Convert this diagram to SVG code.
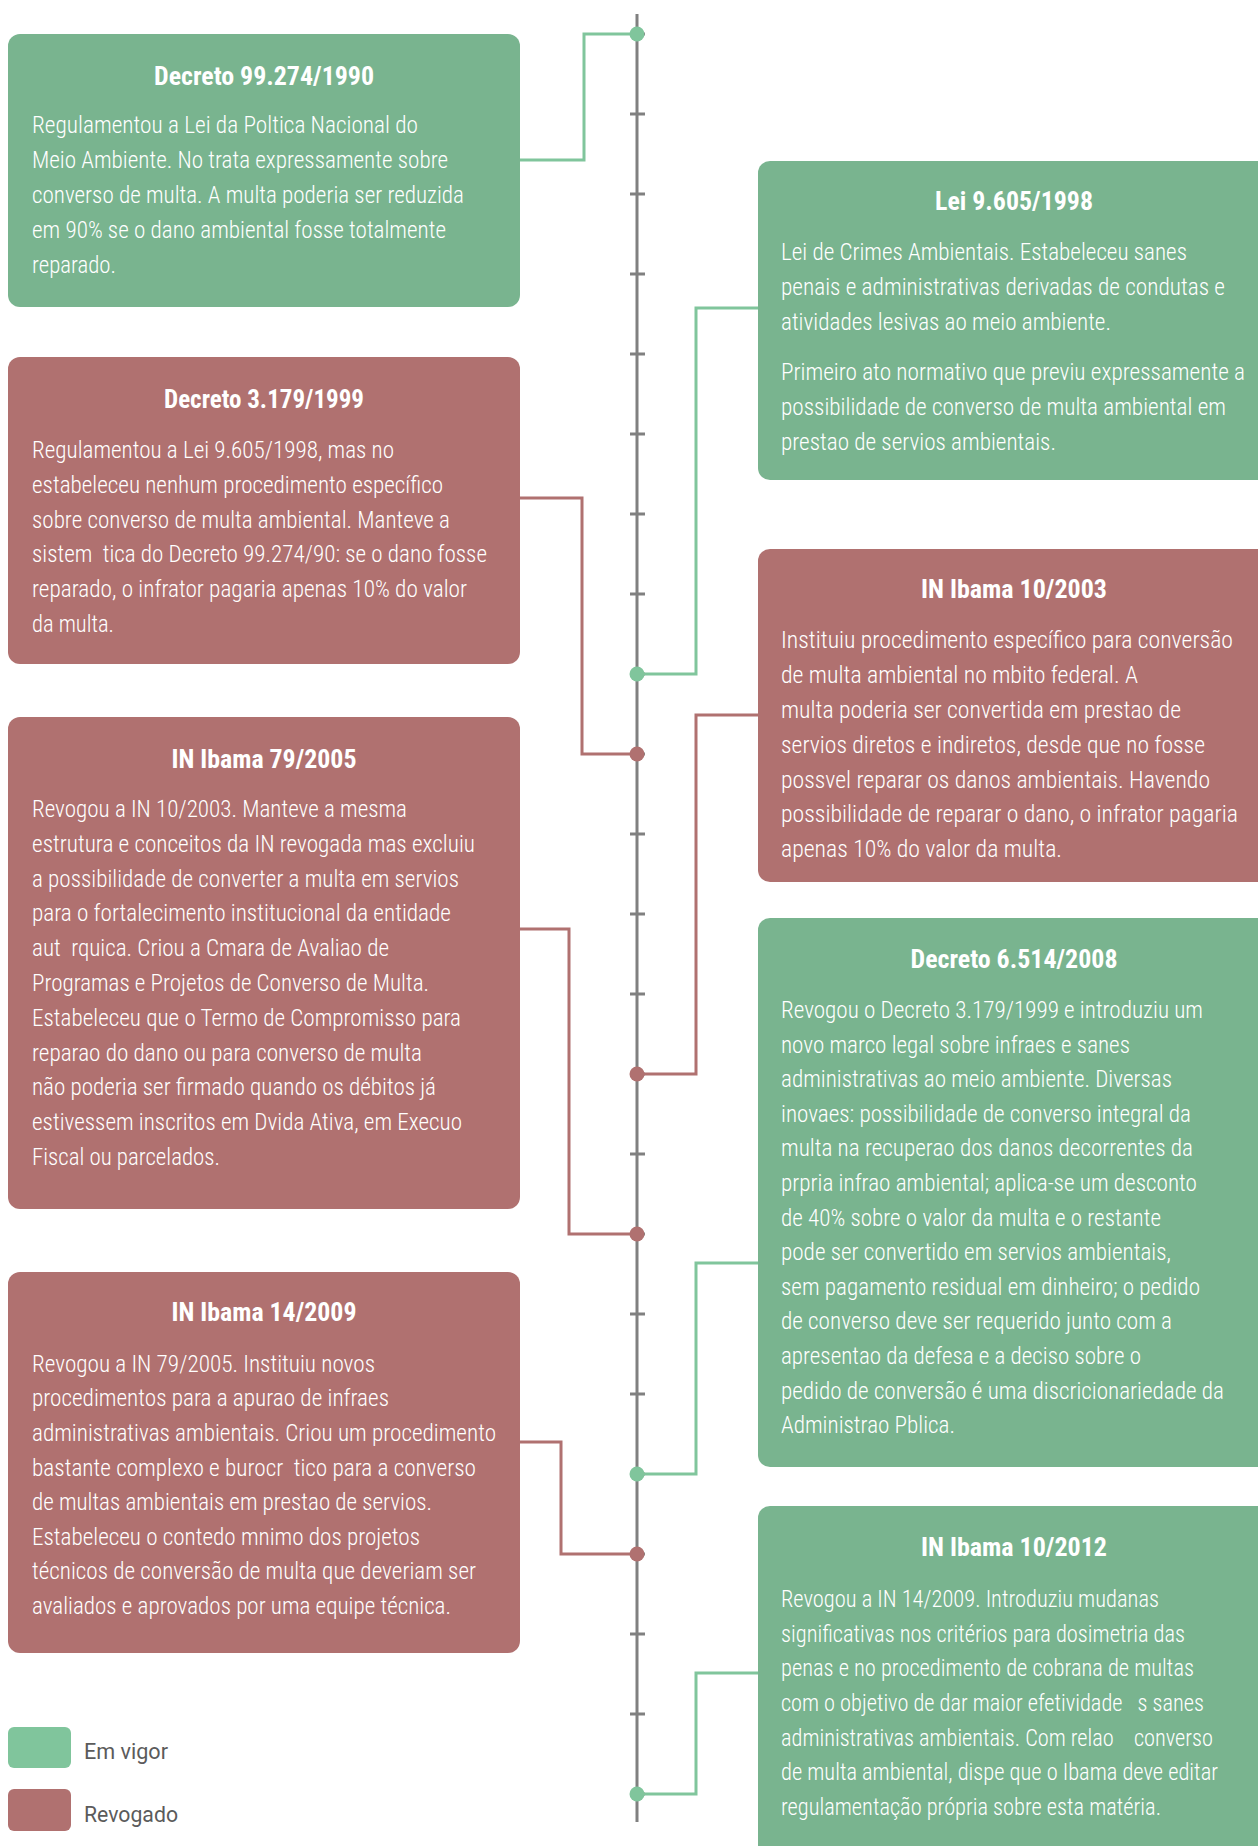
<svg xmlns="http://www.w3.org/2000/svg" width="1258" height="1846" viewBox="0 0 1258 1846">
<style>
  .bg { fill: #ffffff; }
  .g { fill: #79b48f; }
  .r { fill: #b07170; }
  .t { font-family: "Roboto Condensed", Roboto, "Liberation Sans Narrow", sans-serif; font-weight: 700; font-size: 26px; fill: #ffffff; text-anchor: middle; }
  .b { font-family: "Roboto Condensed", Roboto, "Liberation Sans Narrow", sans-serif; font-weight: 300; font-size: 24px; fill: #ffffff; white-space: pre; }
  .lg { font-family: Roboto, "Liberation Sans", sans-serif; font-weight: 400; font-size: 22px; fill: #5b5b5b; }
  .axis { stroke: #808080; stroke-width: 3; fill: none; }
  .cg { stroke: #80c59c; stroke-width: 3; fill: none; }
  .cr { stroke: #b07170; stroke-width: 3; fill: none; }
  .dg { fill: #80c59c; }
  .dr { fill: #b07170; }
</style>
<rect class="bg" x="0" y="0" width="1258" height="1846"/>

<g id="timeline">
  <line class="axis" x1="637" y1="14" x2="637" y2="1822"/>
  <path class="axis" d="M630 34H645M630 114H645M630 194H645M630 274H645M630 354H645M630 434H645M630 514H645M630 594H645M630 674H645M630 754H645M630 834H645M630 914H645M630 994H645M630 1074H645M630 1154H645M630 1234H645M630 1314H645M630 1394H645M630 1474H645M630 1554H645M630 1634H645M630 1714H645M630 1794H645"/>
</g>

<g id="connectors">
  <polyline class="cg" points="520,160 584,160 584,34 637,34"/>
  <polyline class="cg" points="758,308 696,308 696,674 637,674"/>
  <polyline class="cr" points="520,498 582,498 582,754 637,754"/>
  <polyline class="cr" points="758,715 696,715 696,1074 637,1074"/>
  <polyline class="cr" points="520,929 569,929 569,1234 637,1234"/>
  <polyline class="cg" points="758,1263 696,1263 696,1474 637,1474"/>
  <polyline class="cr" points="520,1442 561,1442 561,1554 637,1554"/>
  <polyline class="cg" points="758,1673 696,1673 696,1794 637,1794"/>
  <circle class="dg" cx="637" cy="34" r="7.5"/>
  <circle class="dg" cx="637" cy="674" r="7.5"/>
  <circle class="dr" cx="637" cy="754" r="7.5"/>
  <circle class="dr" cx="637" cy="1074" r="7.5"/>
  <circle class="dr" cx="637" cy="1234" r="7.5"/>
  <circle class="dg" cx="637" cy="1474" r="7.5"/>
  <circle class="dr" cx="637" cy="1554" r="7.5"/>
  <circle class="dg" cx="637" cy="1794" r="7.5"/>
</g>

<g id="decreto-99274-1990">
  <rect class="g" x="8" y="34" width="512" height="273" rx="12"/>
  <text class="t" x="264" y="85" textLength="220" lengthAdjust="spacingAndGlyphs">Decreto 99.274/1990</text>
  <text class="b" x="32" y="133" textLength="386" lengthAdjust="spacingAndGlyphs">Regulamentou a Lei da Poltica Nacional do</text>
  <text class="b" x="32" y="168" textLength="416" lengthAdjust="spacingAndGlyphs">Meio Ambiente. No trata expressamente sobre</text>
  <text class="b" x="32" y="203" textLength="432" lengthAdjust="spacingAndGlyphs">converso de multa. A multa poderia ser reduzida</text>
  <text class="b" x="32" y="238" textLength="414" lengthAdjust="spacingAndGlyphs">em 90% se o dano ambiental fosse totalmente</text>
  <text class="b" x="32" y="273" textLength="84" lengthAdjust="spacingAndGlyphs">reparado.</text>
</g>

<g id="lei-9605-1998">
  <rect class="g" x="758" y="161" width="520" height="319" rx="12"/>
  <text class="t" x="1014" y="210" textLength="158" lengthAdjust="spacingAndGlyphs">Lei 9.605/1998</text>
  <text class="b" x="781" y="260" textLength="406" lengthAdjust="spacingAndGlyphs">Lei de Crimes Ambientais. Estabeleceu sanes</text>
  <text class="b" x="781" y="295" textLength="444" lengthAdjust="spacingAndGlyphs">penais e administrativas derivadas de condutas e</text>
  <text class="b" x="781" y="330" textLength="330" lengthAdjust="spacingAndGlyphs">atividades lesivas ao meio ambiente.</text>
  <text class="b" x="781" y="380" textLength="464" lengthAdjust="spacingAndGlyphs">Primeiro ato normativo que previu expressamente a</text>
  <text class="b" x="781" y="415" textLength="445" lengthAdjust="spacingAndGlyphs">possibilidade de converso de multa ambiental em</text>
  <text class="b" x="781" y="450" textLength="275" lengthAdjust="spacingAndGlyphs">prestao de servios ambientais.</text>
</g>

<g id="decreto-3179-1999">
  <rect class="r" x="8" y="357" width="512" height="307" rx="12"/>
  <text class="t" x="264" y="408" textLength="200" lengthAdjust="spacingAndGlyphs">Decreto 3.179/1999</text>
  <text class="b" x="32" y="458" textLength="362" lengthAdjust="spacingAndGlyphs">Regulamentou a Lei 9.605/1998, mas no</text>
  <text class="b" x="32" y="493" textLength="411" lengthAdjust="spacingAndGlyphs">estabeleceu nenhum procedimento específico</text>
  <text class="b" x="32" y="528" textLength="418" lengthAdjust="spacingAndGlyphs">sobre converso de multa ambiental. Manteve a</text>
  <text class="b" x="32" y="562" textLength="455" lengthAdjust="spacingAndGlyphs">sistem  tica do Decreto 99.274/90: se o dano fosse</text>
  <text class="b" x="32" y="597" textLength="435" lengthAdjust="spacingAndGlyphs">reparado, o infrator pagaria apenas 10% do valor</text>
  <text class="b" x="32" y="632" textLength="82" lengthAdjust="spacingAndGlyphs">da multa.</text>
</g>

<g id="in-ibama-10-2003">
  <rect class="r" x="758" y="549" width="520" height="333" rx="12"/>
  <text class="t" x="1014" y="598" textLength="186" lengthAdjust="spacingAndGlyphs">IN Ibama 10/2003</text>
  <text class="b" x="781" y="648" textLength="452" lengthAdjust="spacingAndGlyphs">Instituiu procedimento específico para conversão</text>
  <text class="b" x="781" y="683" textLength="357" lengthAdjust="spacingAndGlyphs">de multa ambiental no mbito federal. A</text>
  <text class="b" x="781" y="718" textLength="400" lengthAdjust="spacingAndGlyphs">multa poderia ser convertida em prestao de</text>
  <text class="b" x="781" y="753" textLength="424" lengthAdjust="spacingAndGlyphs">servios diretos e indiretos, desde que no fosse</text>
  <text class="b" x="781" y="788" textLength="429" lengthAdjust="spacingAndGlyphs">possvel reparar os danos ambientais. Havendo</text>
  <text class="b" x="781" y="822" textLength="457" lengthAdjust="spacingAndGlyphs">possibilidade de reparar o dano, o infrator pagaria</text>
  <text class="b" x="781" y="857" textLength="281" lengthAdjust="spacingAndGlyphs">apenas 10% do valor da multa.</text>
</g>

<g id="in-ibama-79-2005">
  <rect class="r" x="8" y="717" width="512" height="492" rx="12"/>
  <text class="t" x="264" y="768" textLength="185" lengthAdjust="spacingAndGlyphs">IN Ibama 79/2005</text>
  <text class="b" x="32" y="817" textLength="375" lengthAdjust="spacingAndGlyphs">Revogou a IN 10/2003. Manteve a mesma</text>
  <text class="b" x="32" y="852" textLength="443" lengthAdjust="spacingAndGlyphs">estrutura e conceitos da IN revogada mas excluiu</text>
  <text class="b" x="32" y="887" textLength="427" lengthAdjust="spacingAndGlyphs">a possibilidade de converter a multa em servios</text>
  <text class="b" x="32" y="921" textLength="419" lengthAdjust="spacingAndGlyphs">para o fortalecimento institucional da entidade</text>
  <text class="b" x="32" y="956" textLength="357" lengthAdjust="spacingAndGlyphs">aut  rquica. Criou a Cmara de Avaliao de</text>
  <text class="b" x="32" y="991" textLength="397" lengthAdjust="spacingAndGlyphs">Programas e Projetos de Converso de Multa.</text>
  <text class="b" x="32" y="1026" textLength="429" lengthAdjust="spacingAndGlyphs">Estabeleceu que o Termo de Compromisso para</text>
  <text class="b" x="32" y="1061" textLength="390" lengthAdjust="spacingAndGlyphs">reparao do dano ou para converso de multa</text>
  <text class="b" x="32" y="1095" textLength="404" lengthAdjust="spacingAndGlyphs">não poderia ser firmado quando os débitos já</text>
  <text class="b" x="32" y="1130" textLength="430" lengthAdjust="spacingAndGlyphs">estivessem inscritos em Dvida Ativa, em Execuo</text>
  <text class="b" x="32" y="1165" textLength="188" lengthAdjust="spacingAndGlyphs">Fiscal ou parcelados.</text>
</g>

<g id="decreto-6514-2008">
  <rect class="g" x="758" y="918" width="520" height="549" rx="12"/>
  <text class="t" x="1014" y="968" textLength="207" lengthAdjust="spacingAndGlyphs">Decreto 6.514/2008</text>
  <text class="b" x="781" y="1018" textLength="422" lengthAdjust="spacingAndGlyphs">Revogou o Decreto 3.179/1999 e introduziu um</text>
  <text class="b" x="781" y="1053" textLength="349" lengthAdjust="spacingAndGlyphs">novo marco legal sobre infraes e sanes</text>
  <text class="b" x="781" y="1087" textLength="391" lengthAdjust="spacingAndGlyphs">administrativas ao meio ambiente. Diversas</text>
  <text class="b" x="781" y="1122" textLength="410" lengthAdjust="spacingAndGlyphs">inovaes: possibilidade de converso integral da</text>
  <text class="b" x="781" y="1156" textLength="412" lengthAdjust="spacingAndGlyphs">multa na recuperao dos danos decorrentes da</text>
  <text class="b" x="781" y="1191" textLength="416" lengthAdjust="spacingAndGlyphs">prpria infrao ambiental; aplica-se um desconto</text>
  <text class="b" x="781" y="1226" textLength="380" lengthAdjust="spacingAndGlyphs">de 40% sobre o valor da multa e o restante</text>
  <text class="b" x="781" y="1260" textLength="390" lengthAdjust="spacingAndGlyphs">pode ser convertido em servios ambientais,</text>
  <text class="b" x="781" y="1295" textLength="419" lengthAdjust="spacingAndGlyphs">sem pagamento residual em dinheiro; o pedido</text>
  <text class="b" x="781" y="1329" textLength="391" lengthAdjust="spacingAndGlyphs">de converso deve ser requerido junto com a</text>
  <text class="b" x="781" y="1364" textLength="360" lengthAdjust="spacingAndGlyphs">apresentao da defesa e a deciso sobre o</text>
  <text class="b" x="781" y="1399" textLength="443" lengthAdjust="spacingAndGlyphs">pedido de conversão é uma discricionariedade da</text>
  <text class="b" x="781" y="1433" textLength="174" lengthAdjust="spacingAndGlyphs">Administrao Pblica.</text>
</g>

<g id="in-ibama-14-2009">
  <rect class="r" x="8" y="1272" width="512" height="381" rx="12"/>
  <text class="t" x="264" y="1321" textLength="185" lengthAdjust="spacingAndGlyphs">IN Ibama 14/2009</text>
  <text class="b" x="32" y="1372" textLength="343" lengthAdjust="spacingAndGlyphs">Revogou a IN 79/2005. Instituiu novos</text>
  <text class="b" x="32" y="1406" textLength="357" lengthAdjust="spacingAndGlyphs">procedimentos para a apurao de infraes</text>
  <text class="b" x="32" y="1441" textLength="464" lengthAdjust="spacingAndGlyphs">administrativas ambientais. Criou um procedimento</text>
  <text class="b" x="32" y="1476" textLength="444" lengthAdjust="spacingAndGlyphs">bastante complexo e burocr  tico para a converso</text>
  <text class="b" x="32" y="1510" textLength="400" lengthAdjust="spacingAndGlyphs">de multas ambientais em prestao de servios.</text>
  <text class="b" x="32" y="1545" textLength="388" lengthAdjust="spacingAndGlyphs">Estabeleceu o contedo mnimo dos projetos</text>
  <text class="b" x="32" y="1579" textLength="444" lengthAdjust="spacingAndGlyphs">técnicos de conversão de multa que deveriam ser</text>
  <text class="b" x="32" y="1614" textLength="419" lengthAdjust="spacingAndGlyphs">avaliados e aprovados por uma equipe técnica.</text>
</g>

<g id="in-ibama-10-2012">
  <rect class="g" x="758" y="1506" width="520" height="360" rx="12"/>
  <text class="t" x="1014" y="1556" textLength="186" lengthAdjust="spacingAndGlyphs">IN Ibama 10/2012</text>
  <text class="b" x="781" y="1607" textLength="378" lengthAdjust="spacingAndGlyphs">Revogou a IN 14/2009. Introduziu mudanas</text>
  <text class="b" x="781" y="1642" textLength="404" lengthAdjust="spacingAndGlyphs">significativas nos critérios para dosimetria das</text>
  <text class="b" x="781" y="1676" textLength="413" lengthAdjust="spacingAndGlyphs">penas e no procedimento de cobrana de multas</text>
  <text class="b" x="781" y="1711" textLength="423" lengthAdjust="spacingAndGlyphs">com o objetivo de dar maior efetividade   s sanes</text>
  <text class="b" x="781" y="1746" textLength="432" lengthAdjust="spacingAndGlyphs">administrativas ambientais. Com relao    converso</text>
  <text class="b" x="781" y="1780" textLength="437" lengthAdjust="spacingAndGlyphs">de multa ambiental, dispe que o Ibama deve editar</text>
  <text class="b" x="781" y="1815" textLength="380" lengthAdjust="spacingAndGlyphs">regulamentação própria sobre esta matéria.</text>
</g>

<g id="legend">
  <rect class="dg" x="8" y="1727" width="63" height="41" rx="6"/>
  <text class="lg" x="84" y="1759" textLength="84" lengthAdjust="spacingAndGlyphs">Em vigor</text>
  <rect class="dr" x="8" y="1789" width="63" height="42" rx="6"/>
  <text class="lg" x="84" y="1822" textLength="94" lengthAdjust="spacingAndGlyphs">Revogado</text>
</g>
</svg>
